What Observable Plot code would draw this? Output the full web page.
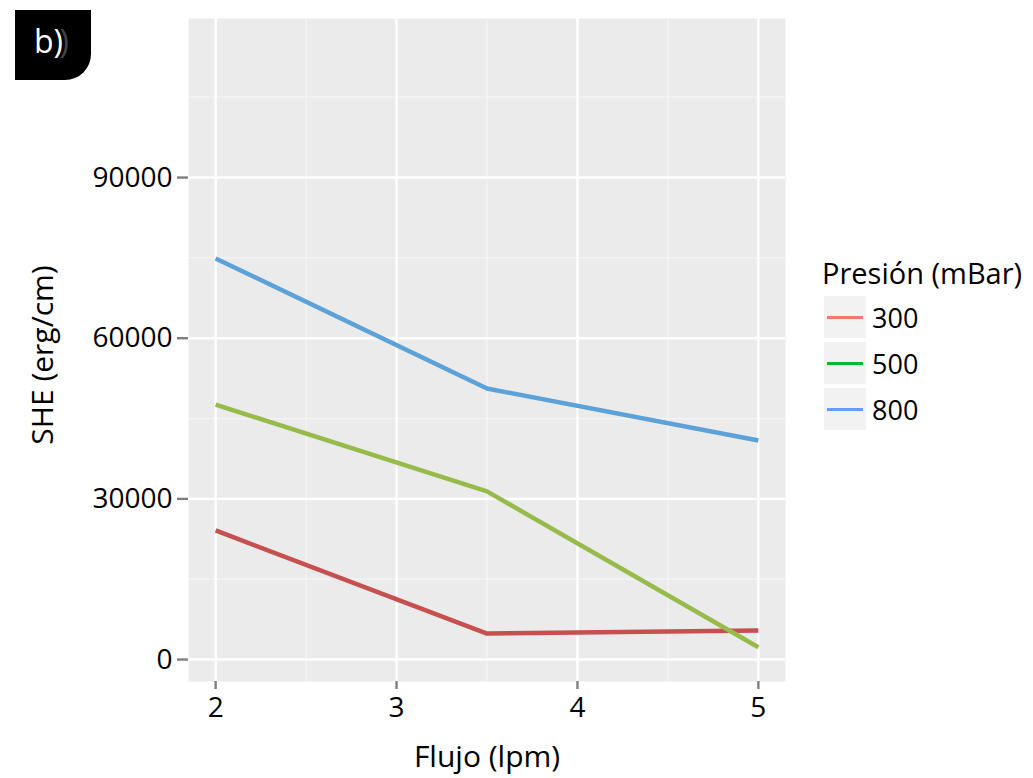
<!DOCTYPE html>
<html>
<head>
<meta charset="utf-8">
<script src="https://cdn.jsdelivr.net/npm/d3@7"></script>
<script src="https://cdn.jsdelivr.net/npm/@observablehq/plot@0.6"></script>
<style>
  html, body { margin: 0; padding: 0; background: #fff; }
  #wrap { position: relative; width: 1033px; height: 778px; font-family: "Open Sans", "DejaVu Sans", sans-serif; }
  #badge { position: absolute; left: 15px; top: 10px; width: 76px; height: 70px; background: #000; border-bottom-right-radius: 26px; }
  #badge span { position: absolute; left: 19px; top: 13px; color: #fff; font-size: 32px; line-height: 36px; }
  #badge span b { font-weight: normal; text-shadow: 6px 0 0 #444; }
  #legend { position: absolute; left: 822px; top: 254px; color: #000; }
  #legend .title { font-size: 29px; line-height: 38px; white-space: nowrap; }
  #legend .row { display: flex; align-items: center; height: 42px; margin-top: 4px; }
  #legend .sw { width: 42px; height: 42px; background: #f2f2f2; position: relative; margin-left: 2px; }
  #legend .sw div { position: absolute; left: 3px; right: 3px; top: 20px; height: 3px; }
  #legend .lab { font-size: 27px; margin-left: 6px; }
</style>
</head>
<body>
<div id="wrap">
  <div id="chart"></div>
  <div id="badge"><span>b<b>)</b></span></div>
  <div id="legend"></div>
</div>
<script>
const flujo = [2, 3.5, 5];
const presiones = ["300", "500", "800"];
const she300 = [24100, 4850, 5400];
const she500 = [47600, 31400, 2300];
const she800 = [74900, 50600, 40900];
const lineColors = ["#c6504f", "#97bb4b", "#5ca2d8"];
const legendColors = ["#F8766D", "#00BA38", "#619CFF"];
const xTicks = [2, 3, 4, 5];
const yTicks = [0, 30000, 60000, 90000];
const xMinor = [2.5, 3.5, 4.5];
const yMinor = [15000, 45000, 75000, 105000];

const series = [she300, she500, she800];
const data = [];
presiones.forEach((p, i) => flujo.forEach((f, j) => data.push({p, f, v: series[i][j]})));

const W = 1033, H = 778;
const chart = Plot.plot({
  width: W, height: H,
  marginLeft: 188, marginRight: 248, marginTop: 18, marginBottom: 97,
  style: { fontFamily: "'Open Sans', 'DejaVu Sans', sans-serif", fontSize: "27px", color: "#000", background: "transparent" },
  x: { domain: [1.85, 5.15], ticks: xTicks, tickSize: 0, label: null },
  y: { domain: [-4100, 119700], ticks: yTicks, tickSize: 0, label: null },
  color: { domain: presiones, range: lineColors },
  marks: [
    Plot.frame({ fill: "#ebebeb", stroke: null }),
    Plot.gridX(xMinor, { stroke: "#f5f5f5", strokeOpacity: 1, strokeWidth: 1.2 }),
    Plot.gridY(yMinor, { stroke: "#f5f5f5", strokeOpacity: 1, strokeWidth: 1.2 }),
    Plot.gridX(xTicks, { stroke: "#fff", strokeOpacity: 1, strokeWidth: 2.4 }),
    Plot.gridY(yTicks, { stroke: "#fff", strokeOpacity: 1, strokeWidth: 2.4 }),
    Plot.line(data, { x: "f", y: "v", z: "p", stroke: "p", strokeWidth: 4.5, strokeLinecap: "butt", strokeLinejoin: "round" }),
    Plot.axisX(xTicks, { tickSize: 8, tickPadding: 8, stroke: "#7f7f7f", strokeWidth: 2.4, fontSize: 28, fill: "#000", label: null, tickFormat: d => String(d) }),
    Plot.axisY(yTicks, { tickSize: 11, tickPadding: 5, stroke: "#7f7f7f", strokeWidth: 2.4, fontSize: 28, fill: "#000", label: null, tickFormat: d => String(d) }),
    Plot.text(["Flujo (lpm)"], { frameAnchor: "bottom", dy: 76, lineAnchor: "middle", textAnchor: "middle", fontSize: 30, fill: "#000", text: d => d }),
    Plot.text(["SHE (erg/cm)"], { frameAnchor: "left", dx: -145, dy: 5, rotate: -90, textAnchor: "middle", lineAnchor: "middle", fontSize: 30, fill: "#000", text: d => d })
  ]
});
document.getElementById("chart").appendChild(chart);

const leg = document.getElementById("legend");
leg.innerHTML = `<div class="title">Presión (mBar)</div>` + presiones.map((p, i) =>
  `<div class="row"><div class="sw"><div style="background:${legendColors[i]}"></div></div><div class="lab">${p}</div></div>`).join("");
</script>
</body>
</html>
